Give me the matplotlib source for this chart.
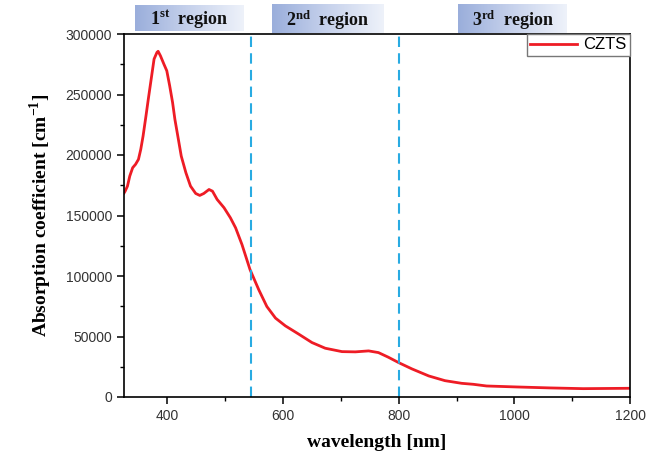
import numpy as np
import matplotlib
matplotlib.use("Agg")
import matplotlib.pyplot as plt
from matplotlib.colors import LinearSegmentedColormap

plt.rcParams['mathtext.fontset'] = 'custom'
plt.rcParams['mathtext.rm'] = 'Liberation Serif'
plt.rcParams['mathtext.bf'] = 'Liberation Serif:bold'

wavelength = [325, 327, 331, 335, 340, 345, 350, 354, 358, 363, 367, 372, 377, 382,
              384, 388, 394, 399, 404, 409, 413, 419, 424, 432, 440, 449, 456, 463,
              472, 478, 486, 498, 509, 518, 529, 543, 558, 572, 587, 604, 627, 650,
              673, 702, 725, 748, 765, 782, 800, 823, 852, 880, 909, 929, 952, 1004,
              1062, 1119, 1200]
absorption = [168500, 170100, 174300, 182600, 189500, 192300, 196400, 204700, 215700,
              232300, 246100, 262700, 279300, 284800, 285700, 282000, 275100, 269600,
              257200, 243400, 229500, 213000, 199100, 185400, 174300, 168200, 166600,
              168200, 171500, 170100, 163300, 156400, 148100, 139800, 126000, 105200,
              88700, 74800, 65200, 58800, 52000, 45000, 40300, 37500, 37300, 38100,
              36700, 32900, 28400, 23200, 17400, 13500, 11300, 10500, 9100, 8300,
              7500, 6900, 7200]
region_bounds = [545, 800]
region_labels = [r"$\mathbf{1^{st}}$  region", r"$\mathbf{2^{nd}}$  region", r"$\mathbf{3^{rd}}$  region"]
series_name = "CZTS"

fig = plt.figure(figsize=(6.54, 4.58), dpi=100)
ax = fig.add_axes([124/654, 1-397/458, (630-124)/654, (397-34)/458])

ax.plot(wavelength, absorption, color='#ee1c25', lw=2.0, label=series_name,
        solid_joinstyle='round')
for b in region_bounds:
    ax.axvline(b, color='#29abe2', lw=1.5, ls=(0, (5, 3)))

ax.set_xlim(325, 1200)
ax.set_ylim(0, 300000)
ax.set_xticks([400, 600, 800, 1000, 1200])
ax.set_xticks(np.arange(400, 1201, 100), minor=True)
ax.set_yticks(np.arange(0, 300001, 50000))
ax.set_yticks(np.arange(0, 300001, 25000), minor=True)
ax.tick_params(which='major', direction='out', length=5, width=1.1, labelsize=10,
               labelcolor='#333333', right=False, top=False)
ax.tick_params(which='minor', direction='out', length=3, width=1.0, right=False, top=False)
for lab in ax.get_xticklabels() + ax.get_yticklabels():
    lab.set_fontfamily('Liberation Sans')
for s in ax.spines.values():
    s.set_linewidth(1.2)

ax.set_xlabel("wavelength [nm]", fontfamily='Liberation Serif', fontweight='bold', fontsize=14, labelpad=8)
ax.set_ylabel(r"Absorption coefficient [cm$^{\mathbf{-1}}$]", fontfamily='Liberation Serif',
              fontweight='bold', fontsize=14, labelpad=8)

leg = ax.legend(loc='upper right', borderaxespad=0, fancybox=False, framealpha=1,
                edgecolor='#777777', handlelength=2.8, handletextpad=0.4,
                borderpad=0.2, prop={'family': 'Liberation Sans', 'size': 12})
leg.get_frame().set_linewidth(1.0)

# region header boxes with gradient
boxes = [(135, 244, 5, 31), (272, 384, 4, 33), (458, 567, 4, 33)]
grad = np.linspace(0, 1, 256)[None, :]
cmap = LinearSegmentedColormap.from_list('hdr', ['#9aaedb', '#c7d2ec', '#eef2fa'])
for (x0, x1, y0, y1), txt in zip(boxes, region_labels):
    bax = fig.add_axes([x0/654, 1-y1/458, (x1-x0)/654, (y1-y0)/458])
    bax.imshow(grad, aspect='auto', cmap=cmap, extent=[0, 1, 0, 1])
    bax.set_axis_off()
    bax.text(0.5, 0.45, txt, ha='center', va='center', fontfamily='Liberation Serif',
             fontweight='bold', fontsize=13, color='#111111', transform=bax.transAxes)

fig.savefig("out.png", dpi=100)
